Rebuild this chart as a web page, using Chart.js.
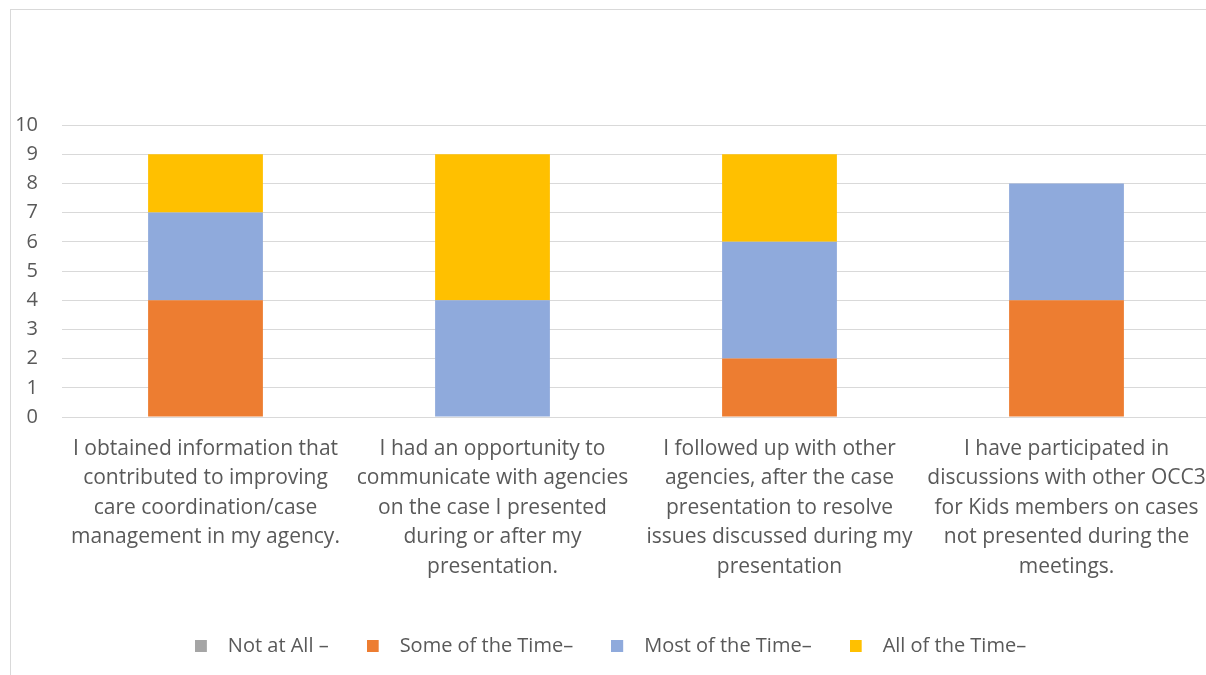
<!DOCTYPE html>
<html>
<head>
<meta charset="utf-8">
<script src="https://cdn.jsdelivr.net/npm/chart.js@4"></script>
<style>
    body { margin: 0; background: #fff; overflow: hidden; }
    #frame {
        position: absolute; left: 10px; top: 9px;
        width: 1212px; height: 681px;
        border: 1px solid #d9d9d9; background: #fff;
    }
</style>
</head>
<body>
<div id="frame"><canvas id="chart"></canvas></div>
<script>
// ---- chart data ----
const categories = [
    ['I obtained information that', 'contributed to improving', 'care coordination/case', 'management in my agency.'],
    ['I had an opportunity to', 'communicate with agencies', 'on the case I presented', 'during or after my', 'presentation.'],
    ['I followed up with other', 'agencies, after the case', 'presentation to resolve', 'issues discussed during my', 'presentation'],
    ['I have participated in', 'discussions with other OCC3', 'for Kids members on cases', 'not presented during the', 'meetings.']
];
const seriesNames = ['Not at All –', 'Some of the Time–', 'Most of the Time–', 'All of the Time–'];
const notAtAll = [0, 0, 0, 0];
const someOfTheTime = [4, 0, 2, 4];
const mostOfTheTime = [3, 4, 4, 4];
const allOfTheTime = [2, 5, 3, 0];
const yTicks = [0, 1, 2, 3, 4, 5, 6, 7, 8, 9, 10];

const textColor = '#595959';
const gridColor = '#d9d9d9';
const fontFamily = '"Open Sans", "Noto Sans", sans-serif';

// legend marker: small square on the left of a wider transparent canvas,
// so the gap between square and text is a bit wider than Chart.js default
function legendSquare(color) {
    const c = document.createElement('canvas');
    c.width = 23;
    c.height = 12;
    const g = c.getContext('2d');
    g.fillStyle = color;
    g.fillRect(0, 0, 12, 12);
    return c;
}

const ctx = document.getElementById('chart');
new Chart(ctx, {
    type: 'bar',
    data: {
        labels: categories,
        datasets: [
            { label: seriesNames[0], data: notAtAll, backgroundColor: '#a5a5a5' },
            { label: seriesNames[1], data: someOfTheTime, backgroundColor: '#ed7d31' },
            { label: seriesNames[2], data: mostOfTheTime, backgroundColor: '#8faadc' },
            { label: seriesNames[3], data: allOfTheTime, backgroundColor: '#ffc000' }
        ]
    },
    options: {
        responsive: true,
        maintainAspectRatio: false,
        animation: false,
        layout: { padding: { top: 115, left: 0, right: 13, bottom: 25 } },
        datasets: {
            bar: { barPercentage: 1, categoryPercentage: 0.4 }
        },
        scales: {
            x: {
                stacked: true,
                grid: { display: false },
                border: { color: gridColor },
                afterFit: axis => { axis.height = 181; },
                ticks: {
                    color: textColor,
                    font: { family: fontFamily, size: 21, lineHeight: 1.405 },
                    padding: 9,
                    maxRotation: 0,
                    autoSkip: false
                }
            },
            y: {
                stacked: true,
                min: 0,
                max: 10,
                afterBuildTicks: axis => { axis.ticks = yTicks.map(v => ({ value: v })); },
                afterFit: axis => { axis.width = 51; },
                grid: { color: gridColor, drawTicks: false },
                border: { display: false },
                ticks: {
                    color: textColor,
                    font: { family: fontFamily, size: 20 },
                    padding: 24
                }
            }
        },
        plugins: {
            legend: {
                position: 'bottom',
                labels: {
                    color: textColor,
                    font: { family: fontFamily, size: 20 },
                    usePointStyle: true,
                    pointStyleWidth: 23,
                    boxHeight: 12,
                    padding: 38,
                    generateLabels: chart => {
                        const items = Chart.defaults.plugins.legend.labels.generateLabels(chart);
                        items.forEach(item => {
                            item.pointStyle = legendSquare(chart.data.datasets[item.datasetIndex].backgroundColor);
                        });
                        return items;
                    }
                }
            },
            tooltip: { enabled: false }
        }
    }
});
</script>
</body>
</html>
